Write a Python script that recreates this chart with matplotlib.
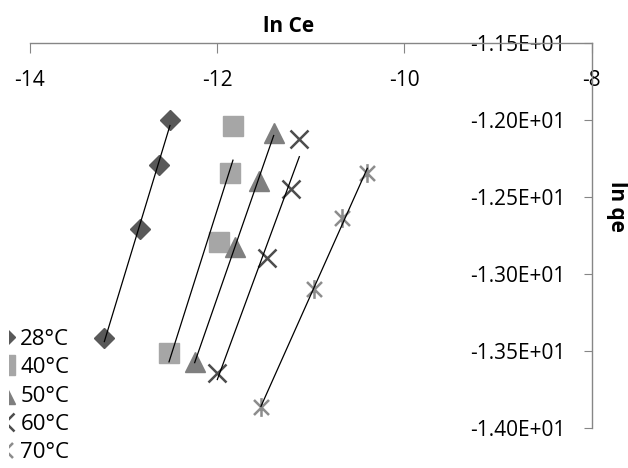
import numpy as np
import matplotlib
matplotlib.use("Agg")
import matplotlib.pyplot as plt
from matplotlib.path import Path
from matplotlib.patches import Rectangle

plt.rcParams['font.family'] = ['Open Sans', 'DejaVu Sans']

# ln Ce / ln qe for each temperature
labels = ['28°C', '40°C', '50°C', '60°C', '70°C']
x28 = [-12.505, -12.625, -12.822, -13.206]
y28 = [-11.999, -12.292, -12.710, -13.419]
x40 = [-11.832, -11.860, -11.981, -12.515]
y40 = [-12.038, -12.346, -12.791, -13.517]
x50 = [-11.397, -11.557, -11.810, -12.241]
y50 = [-12.086, -12.394, -12.827, -13.572]
x60 = [-11.123, -11.215, -11.465, -11.999]
y60 = [-12.125, -12.450, -12.899, -13.643]
x70 = [-10.397, -10.667, -10.970, -11.533]
y70 = [-12.342, -12.639, -13.101, -13.868]

xticks = [-14, -12, -10, -8]
yticks = [-11.5, -12.0, -12.5, -13.0, -13.5, -14.0]

# excel style asterisk: an x with a vertical bar
star = Path([(-1, -1), (1, 1), (-1, 1), (1, -1), (0, -1.25), (0, 1.25)],
            [Path.MOVETO, Path.LINETO, Path.MOVETO, Path.LINETO, Path.MOVETO, Path.LINETO])

series = [
    (x28, y28, dict(marker='D', ms=10.2, color='#595959', mec='#595959')),
    (x40, y40, dict(marker='s', ms=14.5, color='#a6a6a6', mec='#a6a6a6')),
    (x50, y50, dict(marker='^', ms=14.5, color='#7f7f7f', mec='#7f7f7f')),
    (x60, y60, dict(marker='x', ms=13.5, color='#4d4d4d', mew=1.8)),
    (x70, y70, dict(marker=star, ms=13.5, color='#8c8c8c', mew=1.8)),
]

fig = plt.figure(figsize=(6.28, 4.68), dpi=100)
ax = fig.add_axes([30 / 628, 1 - 427.7 / 468, (591.7 - 30) / 628, (427.7 - 43.3) / 468])

for (xs, ys, st), lab in zip(series, labels):
    ax.plot(xs, ys, linestyle='none', label=lab, zorder=3, **st)
    # linear trendline across the data range
    k, b = np.polyfit(xs, ys, 1)
    xl = np.array([min(xs), max(xs)])
    ax.plot(xl, k * xl + b, color='black', lw=0.9, zorder=4)

ax.set_xlim(-14, -8)
ax.set_ylim(-14, -11.5)

for s in ['left', 'bottom']:
    ax.spines[s].set_visible(False)
for s in ['top', 'right']:
    ax.spines[s].set_color('#868686')
    ax.spines[s].set_linewidth(1.0)

ax.set_xticks(xticks)
ax.set_xticklabels([str(t) for t in xticks])
ax.set_yticks(yticks)
ax.set_yticklabels([f"{t:.2E}" for t in yticks], ha='right')

ax.tick_params(axis='x', top=True, bottom=False, labeltop=True, labelbottom=False,
               direction='in', length=7, color='#868686', pad=-34, labelsize=15)
ax.tick_params(axis='y', right=True, left=False, labelright=True, labelleft=False,
               direction='in', length=6, color='#868686', pad=-19, labelsize=15)

fig.text(289 / 628, 1 - 26 / 468, 'ln Ce', ha='center', va='center',
         fontsize=15, fontweight='bold')
fig.text(617 / 628, 1 - 206 / 468, 'ln qe', ha='center', va='center',
         rotation=270, fontsize=15, fontweight='bold')

leg = fig.legend(loc='upper left', bbox_to_anchor=(-13 / 628, 1 - 320 / 468),
                 frameon=False, fontsize=16, handlelength=0.8, handletextpad=0.3,
                 labelspacing=0.33, borderaxespad=0)

# the legend keys are cut off on the left
fig.patches.append(Rectangle((0, 0), 9 / 628, 150 / 468, transform=fig.transFigure,
                             facecolor='white', edgecolor='none', zorder=10))

fig.savefig('out.png', dpi=100)
